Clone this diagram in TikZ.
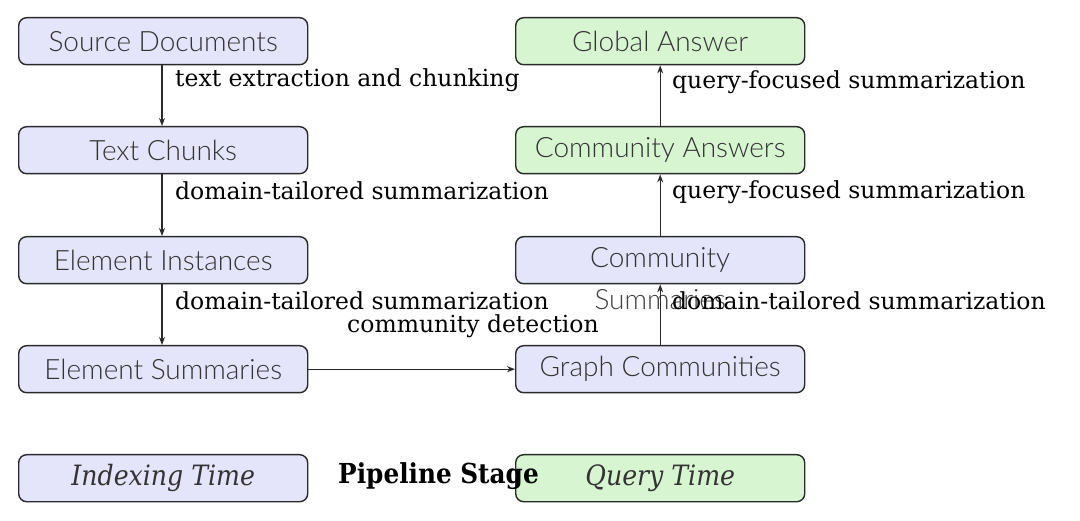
\documentclass[tikz,border=0pt]{standalone}
\usepackage{fontspec}
\setmainfont{DejaVu Serif}
\newfontfamily\nodefont{Lato}[UprightFont=* Light]
\newfontfamily\condfont{DejaVu Serif Condensed}
\usetikzlibrary{arrows.meta}
\definecolor{lav}{HTML}{E4E4FA}
\definecolor{grn}{HTML}{D8F5D2}
\definecolor{edge}{HTML}{2A2A2A}
\tikzset{
  x=1pt, y=1pt,
  stage/.style={draw=edge, line width=1.4pt, rounded corners=8pt, minimum width=289pt, minimum height=47pt, inner sep=0pt, font=\nodefont\fontsize{28}{32}\selectfont, text=black!80, anchor=north west},
  idx/.style={stage, fill=lav},
  qry/.style={stage, fill=grn},
  flow/.style={draw=edge, line width=1.1pt, -{Stealth[length=8pt,width=6pt]}},
  elab/.style={font=\fontsize{23.5}{28}\selectfont, inner sep=0pt, text=black}
}
\begin{document}
\begin{tikzpicture}
\useasboundingbox (0,0) rectangle (1080,-521);
\fill[white] (0,0) rectangle (1080,-521);
% left column
\node[idx] (src) at (18,-17) {Source Documents};
\node[idx] (chk) at (18,-126) {Text Chunks};
\node[idx] (ins) at (18,-236) {Element Instances};
\node[idx] (sum) at (18,-345) {Element Summaries};
\node[idx] (itime) at (18,-454) {\condfont\itshape\fontsize{28}{32}\selectfont Indexing Time};
% right column
\node[qry] (ga) at (515,-17) {Global Answer};
\node[qry] (ca) at (515,-126) {Community Answers};
\node[idx, label={[font=\nodefont\fontsize{28}{32}\selectfont, text=black!75, inner sep=0pt, yshift=-39pt]center:Summaries}] (cs) at (515,-236) {Community};
\node[idx] (gc) at (515,-345) {Graph Communities};
\node[qry] (qtime) at (515,-454) {\condfont\itshape\fontsize{28}{32}\selectfont Query Time};
\node[font=\condfont\bfseries\fontsize{27.5}{32}\selectfont, inner sep=0pt, anchor=west] (ps) at (338,-476) {Pipeline Stage};
% arrows
\draw[flow] (src.south -| 162,0) -- (chk.north -| 162,0);
\draw[flow] (chk.south -| 162,0) -- (ins.north -| 162,0);
\draw[flow] (ins.south -| 162,0) -- (sum.north -| 162,0);
\draw[flow] (sum.east) -- (gc.west);
\draw[flow] (gc.north) -- (cs.south);
\draw[flow] (cs.north) -- (ca.south);
\draw[flow] (ca.north) -- (ga.south);
% labels
\node[elab, anchor=west] (l1) at (175,-80) {text extraction and chunking};
\node[elab, anchor=west] (l2) at (175,-191) {domain-tailored summarization};
\node[elab, anchor=west] (l3) at (175,-301) {domain-tailored summarization};
\node[elab, anchor=center] (l4) at (473,-326) {community detection};
\node[elab, anchor=west] (r1) at (672,-82) {query-focused summarization};
\node[elab, anchor=west] (r2) at (672,-192) {query-focused summarization};
\node[elab, anchor=west] (r3) at (672,-301) {domain-tailored summarization};
\end{tikzpicture}
\end{document}
